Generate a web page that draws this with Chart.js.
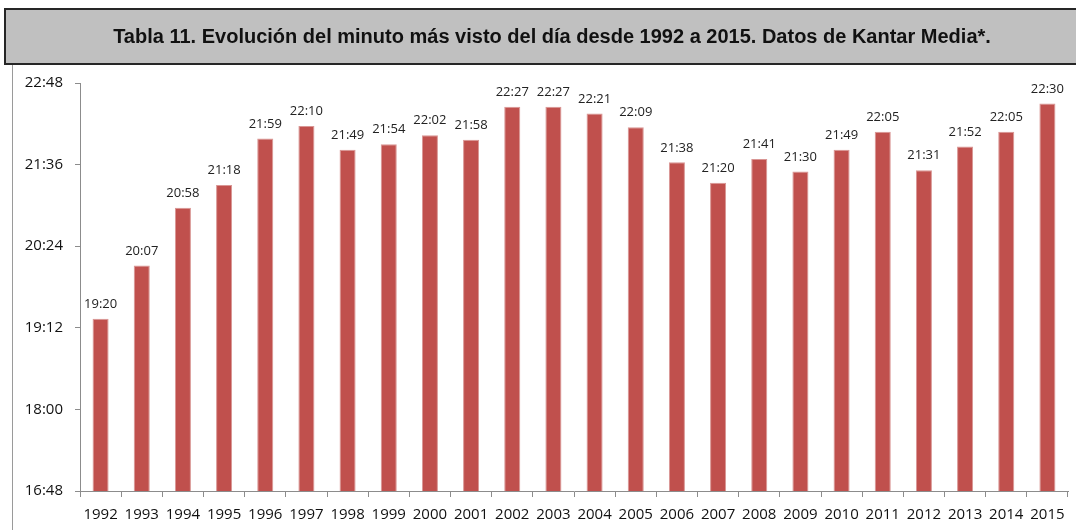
<!DOCTYPE html>
<html>
<head>
<meta charset="utf-8">
<script src="https://cdn.jsdelivr.net/npm/chart.js@4"></script>
<style>
    body { margin: 0; background: #fff; width: 1076px; height: 530px; overflow: hidden; position: relative; }
    #titleBox {
        position: absolute; left: 4px; top: 8px; width: 1090px; height: 53px;
        background: #c0c0c0; border: 2px solid #262626; z-index: 2;
    }
    #titleText {
        position: absolute; left: 0; top: 8px; width: 1104px; height: 56px;
        text-align: center; font: bold 20px "Liberation Sans", Arial, sans-serif; line-height: 56px;
        color: #111; z-index: 3;
    }
    #frame { position: absolute; left: 12px; top: 63px; width: 1px; height: 470px; background: #9a9a9a; }
    #wrap { position: absolute; left: 0; top: 0; width: 1076px; height: 530px; }
</style>
</head>
<body>
<div id="titleBox"></div>
<div id="titleText">Tabla 11. Evolución del minuto más visto del día desde 1992 a 2015. Datos de Kantar Media*.</div>
<div id="frame"></div>
<div id="wrap"><canvas id="chart" width="1076" height="530"></canvas></div>
<script>
// Years and most-watched minute per year (HH:MM)
const years = ['1992', '1993', '1994', '1995', '1996', '1997', '1998', '1999', '2000', '2001', '2002', '2003',
               '2004', '2005', '2006', '2007', '2008', '2009', '2010', '2011', '2012', '2013', '2014', '2015'];
const peakTimes = ['19:20', '20:07', '20:58', '21:18', '21:59', '22:10', '21:49', '21:54', '22:02', '21:58', '22:27', '22:27',
                   '22:21', '22:09', '21:38', '21:20', '21:41', '21:30', '21:49', '22:05', '21:31', '21:52', '22:05', '22:30'];
const axisMin = '16:48';
const axisMax = '22:48';
const axisStep = 72; // minutes between y ticks

function toMinutes(t) {
    const p = t.split(':');
    return parseInt(p[0], 10) * 60 + parseInt(p[1], 10);
}
function toClock(m) {
    const h = Math.floor(m / 60);
    const mm = m % 60;
    return h + ':' + (mm < 10 ? '0' : '') + mm;
}

// Draw the HH:MM label above each bar
const barLabels = {
    id: 'barLabels',
    afterDatasetsDraw(chart) {
        const ctx = chart.ctx;
        const meta = chart.getDatasetMeta(0);
        ctx.save();
        ctx.font = '13px "Open Sans", sans-serif';
        ctx.fillStyle = '#222';
        ctx.textAlign = 'center';
        ctx.textBaseline = 'bottom';
        meta.data.forEach((bar, i) => {
            ctx.fillText(peakTimes[i], bar.x, bar.y - 8);
        });
        ctx.restore();
    }
};

const ctx = document.getElementById('chart').getContext('2d');
const chart = new Chart(ctx, {
    type: 'bar',
    data: {
        labels: years,
        datasets: [{
            data: peakTimes.map(toMinutes),
            backgroundColor: '#c0504d',
            borderColor: '#d99694',
            borderWidth: { left: 1, right: 1, top: 1, bottom: 0 },
            categoryPercentage: 1,
            barPercentage: 0.39
        }]
    },
    options: {
        responsive: false,
        animation: false,
        layout: { padding: { top: 83, right: 8, left: 0, bottom: 0 } },
        plugins: {
            legend: { display: false },
            tooltip: { enabled: false }
        },
        scales: {
            x: {
                offset: true,
                grid: {
                    offset: true,
                    drawOnChartArea: false,
                    drawTicks: true,
                    tickLength: 6,
                    color: '#8c8c8c'
                },
                border: { color: '#8c8c8c', width: 1 },
                ticks: {
                    color: '#111',
                    padding: 9,
                    maxRotation: 0,
                    autoSkip: false,
                    font: { family: '"Open Sans", sans-serif', size: 15 }
                },
                afterFit(scale) { scale.height = 39; }
            },
            y: {
                min: toMinutes(axisMin),
                max: toMinutes(axisMax),
                grid: {
                    drawOnChartArea: false,
                    drawTicks: true,
                    tickLength: 5,
                    color: '#8c8c8c'
                },
                border: { color: '#8c8c8c', width: 1 },
                ticks: {
                    stepSize: axisStep,
                    color: '#111',
                    padding: 12,
                    font: { family: '"Open Sans", sans-serif', size: 15 },
                    callback: v => toClock(v)
                },
                afterFit(scale) { scale.width = 80; }
            }
        }
    },
    plugins: [barLabels]
});
</script>
</body>
</html>
